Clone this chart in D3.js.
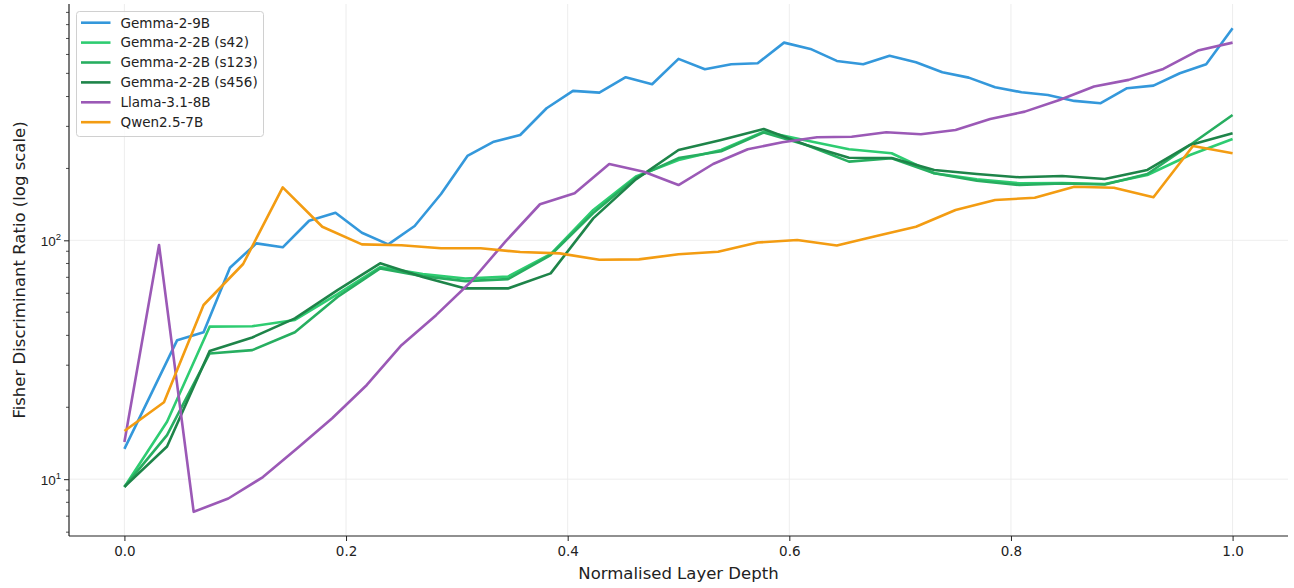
<!DOCTYPE html>
<html>
<head>
<meta charset="utf-8">
<script src="https://cdn.jsdelivr.net/npm/d3@7/dist/d3.min.js"></script>
<style>
  html, body { margin: 0; padding: 0; background: #ffffff; }
  svg { display: block; font-family: "DejaVu Sans", sans-serif; }
</style>
</head>
<body>
<svg id="chart" width="1294" height="588"></svg>
<script>
// Fisher discriminant ratio per layer, one array per model (layer 0 .. last layer)
const gemma9b = [13.4, 22.6, 38.2, 41.2, 76.8, 97.1, 93.5, 120.8, 130.5, 107.6, 96.2, 114.8, 156.3, 225.5,
  258.9, 276.1, 357.3, 422.2, 415.3, 481.8, 450.3, 574.8, 520.4, 546.1, 551.4, 672.6, 633.0, 563.7,
  546.1, 592.0, 556.8, 505.6, 479.9, 437.5, 416.9, 406.2, 383.4, 374.9, 433.3, 444.3, 500.7, 546.1, 773.0];

const gemma2bS42 = [9.28, 17.4, 43.5, 43.7, 46.4, 59.5, 77.3, 72.2, 69.2, 70.5, 87.6, 134.0, 185.0,
  217.0, 238.9, 285.1, 262.0, 240.6, 231.5, 190.9, 180.1, 173.3, 173.8, 172.1, 187.7, 227.7, 265.7];

const gemma2bS123 = [9.28, 15.3, 33.6, 34.7, 41.2, 57.9, 76.3, 70.8, 67.5, 68.8, 86.8, 130.1, 183.0,
  221.0, 236.0, 282.9, 250.7, 213.5, 220.5, 190.9, 177.7, 170.5, 173.0, 171.3, 189.6, 250.7, 334.9];

const gemma2bS456 = [9.28, 13.7, 34.4, 39.2, 47.1, 61.9, 80.1, 70.2, 62.9, 62.9, 72.7, 123.6, 180.0,
  238.9, 263.2, 292.6, 250.7, 221.8, 221.2, 197.1, 189.6, 183.6, 186.0, 180.6, 197.1, 250.7, 280.8];

const llama8b = [14.3, 95.6, 7.30, 8.30, 10.2, 13.5, 18.0, 24.8, 36.4, 48.6, 66.9, 98.8, 141.6, 157.3,
  208.7, 193.8, 170.4, 208.7, 240.6, 257.3, 270.1, 271.6, 283.5, 278.1, 289.8, 322.3, 345.8, 387.1,
  440.2, 469.6, 522.1, 622.8, 672.6];

const qwen7b = [15.9, 21.0, 53.6, 79.6, 166.7, 114.0, 96.2, 95.3, 92.6, 92.6, 89.3, 88.2, 82.9, 83.2,
  87.4, 89.6, 97.9, 100.3, 95.1, 104.2, 114.0, 133.9, 147.5, 150.8, 167.7, 166.1, 151.4, 248.3, 231.5];

const seriesNames = ["Gemma-2-9B", "Gemma-2-2B (s42)", "Gemma-2-2B (s123)", "Gemma-2-2B (s456)", "Llama-3.1-8B", "Qwen2.5-7B"];
const seriesValues = [gemma9b, gemma2bS42, gemma2bS123, gemma2bS456, llama8b, qwen7b];
const seriesColors = ["#3498db", "#2ecc71", "#27ae60", "#1e8449", "#9b59b6", "#f39c12"];

const xTicks = [0, 0.2, 0.4, 0.6, 0.8, 1.0];
const xLabel = "Normalised Layer Depth";
const yLabel = "Fisher Discriminant Ratio (log scale)";

// each layer index is placed at index / (layers - 1)
const series = seriesNames.map((name, k) => ({
  name,
  color: seriesColors[k],
  points: seriesValues[k].map((v, i, arr) => ({ x: i / (arr.length - 1), y: v }))
}));

const svg = d3.select("#chart");
const plot = { left: 69, right: 1288, top: 4, bottom: 536 };

// 5% padding on each side, in data space (log space for y)
const x = d3.scaleLinear().domain([-0.05, 1.05]).range([plot.left, plot.right]);
const allY = seriesValues.flat();
const lo = Math.log10(d3.min(allY)), hi = Math.log10(d3.max(allY));
const pad = (hi - lo) * 0.05;
const y = d3.scaleLog().domain([10 ** (lo - pad), 10 ** (hi + pad)]).range([plot.bottom, plot.top]);

const majorY = y.ticks().filter(v => Math.abs(Math.log10(v) - Math.round(Math.log10(v))) < 1e-9);
const minorY = y.ticks().filter(v => !majorY.includes(v));

// grid
const grid = svg.append("g");
grid.selectAll("line.gx").data(xTicks).join("line")
  .attr("x1", d => x(d)).attr("x2", d => x(d))
  .attr("y1", plot.top).attr("y2", plot.bottom)
  .attr("stroke", "#ebebeb").attr("stroke-width", 0.9);
grid.selectAll("line.gy").data(majorY).join("line")
  .attr("x1", plot.left).attr("x2", plot.right)
  .attr("y1", d => y(d)).attr("y2", d => y(d))
  .attr("stroke", "#ebebeb").attr("stroke-width", 0.9);

// series lines
const line = d3.line().x(d => x(d.x)).y(d => y(d.y));
svg.append("g").selectAll("path").data(series).join("path")
  .attr("d", d => line(d.points))
  .attr("fill", "none")
  .attr("stroke", d => d.color)
  .attr("stroke-width", 2.6)
  .attr("stroke-linejoin", "round")
  .attr("stroke-linecap", "butt");

// x axis
const xAxis = svg.append("g").attr("transform", `translate(0,${plot.bottom})`)
  .call(d3.axisBottom(x).tickValues(xTicks).tickFormat(d3.format(".1f")).tickSize(5).tickPadding(5));
xAxis.select(".domain").attr("stroke", "#222").attr("stroke-width", 1.2).attr("d", `M${plot.left},0H${plot.right}`);
xAxis.selectAll(".tick line").attr("stroke", "#222").attr("stroke-width", 1);
xAxis.selectAll(".tick text").attr("fill", "#222").style("font-size", "13.5px").style("font-family", "DejaVu Sans");

// y axis: major ticks with 10^n labels, minor ticks unlabeled
const yAxis = svg.append("g").attr("transform", `translate(${plot.left},0)`)
  .call(d3.axisLeft(y).tickValues(majorY).tickFormat("").tickSize(5));
yAxis.select(".domain").attr("stroke", "#222").attr("stroke-width", 1.2).attr("d", `M0,${plot.top}V${plot.bottom}`);
yAxis.selectAll(".tick line").attr("stroke", "#222").attr("stroke-width", 1);
yAxis.selectAll(".tick").each(function(d) {
  const t = d3.select(this).append("text")
    .attr("x", -8).attr("y", 5)
    .attr("text-anchor", "end")
    .attr("fill", "#222")
    .style("font-size", "13.5px");
  t.append("tspan").text("10");
  t.append("tspan").attr("dy", -6).style("font-size", "9.5px").text(String(Math.round(Math.log10(d))));
});
svg.append("g").attr("transform", `translate(${plot.left},0)`)
  .selectAll("line").data(minorY).join("line")
  .attr("x1", -3).attr("x2", 0)
  .attr("y1", d => y(d)).attr("y2", d => y(d))
  .attr("stroke", "#222").attr("stroke-width", 0.8);

// axis titles
svg.append("text")
  .attr("x", (x(0) + x(1)) / 2).attr("y", 579)
  .attr("text-anchor", "middle").attr("fill", "#222")
  .style("font-size", "16.5px").text(xLabel);
svg.append("text")
  .attr("transform", `translate(25,${(plot.top + plot.bottom) / 2}) rotate(-90)`)
  .attr("text-anchor", "middle").attr("fill", "#222")
  .style("font-size", "16.5px").text(yLabel);

// legend
const legend = svg.append("g").attr("transform", "translate(76.5,11.5)");
legend.append("rect")
  .attr("width", 187).attr("height", 125).attr("rx", 3)
  .attr("fill", "#ffffff").attr("fill-opacity", 0.8)
  .attr("stroke", "#d0d0d0").attr("stroke-width", 1);
const entry = legend.selectAll("g").data(series).join("g")
  .attr("transform", (d, i) => `translate(0,${11.2 + i * 19.9})`);
entry.append("line")
  .attr("x1", 4.5).attr("x2", 34).attr("y1", 0).attr("y2", 0)
  .attr("stroke", d => d.color).attr("stroke-width", 2.6);
entry.append("text")
  .attr("x", 44).attr("y", 4.8)
  .attr("fill", "#222").style("font-size", "13.5px")
  .text(d => d.name);
</script>
</body>
</html>
